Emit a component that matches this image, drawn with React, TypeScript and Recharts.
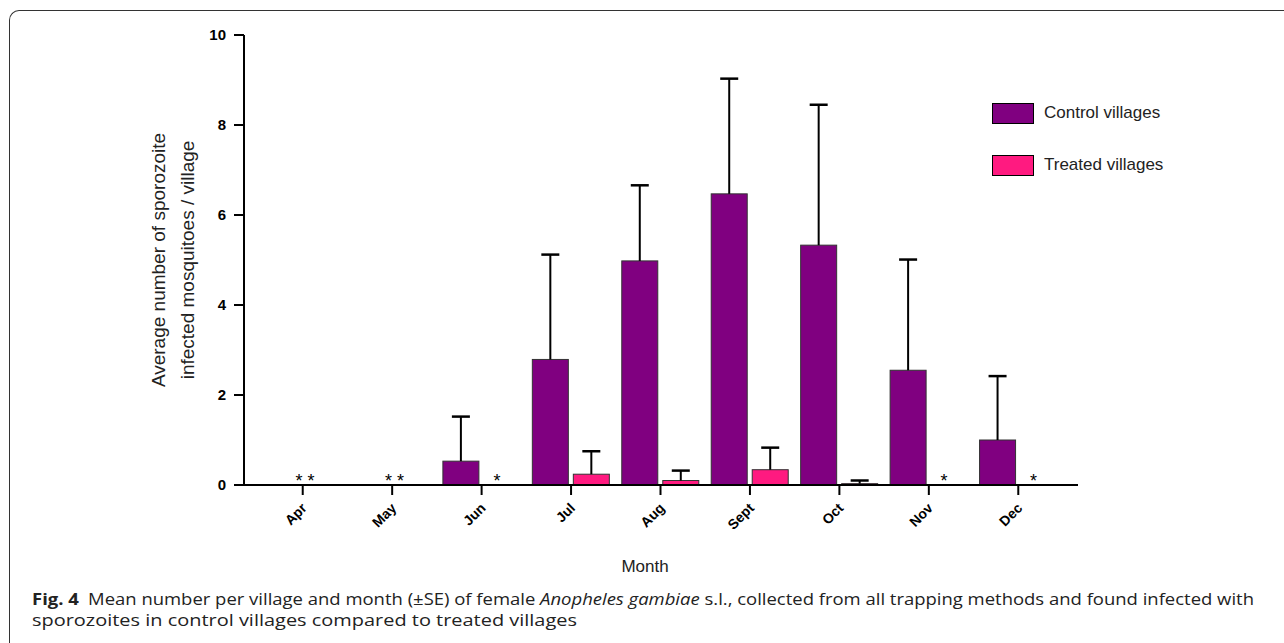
import React from 'react'
import { BarChart, Bar, XAxis, YAxis, Legend, LabelList } from 'recharts'

const months = ['Apr', 'May', 'Jun', 'Jul', 'Aug', 'Sept', 'Oct', 'Nov', 'Dec']
const controlMean = [0, 0, 0.53, 2.79, 4.98, 6.47, 5.33, 2.55, 1.0]
const controlSE = [0, 0, 0.99, 2.33, 1.68, 2.56, 3.12, 2.46, 1.42]
const treatedMean = [0, 0, 0, 0.24, 0.1, 0.34, 0.03, 0, 0]
const treatedSE = [0, 0, 0, 0.51, 0.22, 0.49, 0.07, 0, 0]
const yTicks = [0, 2, 4, 6, 8, 10]

const CONTROL = '#800080'
const TREATED = '#ff1a80'
const ARIAL = "Arial, 'Liberation Sans', sans-serif"

const data = months.map((m, i) => ({
  month: m,
  control: controlMean[i],
  controlErr: controlSE[i],
  treated: treatedMean[i],
  treatedErr: treatedSE[i],
}))

const legendItems = [
  { label: 'Control villages', color: CONTROL },
  { label: 'Treated villages', color: TREATED },
]

// bar with an upward-only SE whisker, scaled from the bar's own geometry
const barWithError = (valKey: string, errKey: string) => (props: any) => {
  const { x, y, width, height, fill, payload } = props
  const v = payload[valKey]
  const e = payload[errKey]
  if (!v) return <g />
  const perUnit = height / v
  const cx = x + width / 2
  const top = y - e * perUnit
  return (
    <g>
      <rect x={x} y={y} width={width} height={height} fill={fill} stroke="#333" strokeWidth={1} />
      {e > 0 && (
        <>
          <line x1={cx} x2={cx} y1={y} y2={top} stroke="#000" strokeWidth={2} />
          <line x1={cx - 9} x2={cx + 9} y1={top} y2={top} stroke="#000" strokeWidth={2.5} />
        </>
      )}
    </g>
  )
}

const renderStar = (props: any) => {
  const { x, y, width, index } = props
  const row = data[index]
  if (!row || row.treated !== 0) return null
  const both = row.control === 0
  return (
    <text
      x={both ? x : x + width / 2 - 5}
      y={y + 2}
      textAnchor="middle"
      fontFamily={ARIAL}
      fontSize={18}
      fill="#000"
    >
      {both ? '* *' : '*'}
    </text>
  )
}

const MonthTick = ({ x, y, payload }: any) => (
  <g transform={`translate(${x + 5},${y + 12}) rotate(-45)`}>
    <text textAnchor="end" fontFamily={ARIAL} fontSize={14} fontWeight="bold" fill="#000">
      {payload.value}
    </text>
  </g>
)

const XTitle = (props: any) => {
  const vb = props.viewBox
  return (
    <text x={vb.x + vb.width / 2 - 16} y={572} textAnchor="middle" fontFamily={ARIAL} fontSize={17} fill="#222">
      Month
    </text>
  )
}

const YTitle = (props: any) => {
  const vb = props.viewBox
  const cy = vb.y + vb.height / 2
  const lines = ['Average number of sporozoite', 'infected mosquitoes / village']
  const xs = [vb.x - 26, vb.x + 3]
  return (
    <g>
      {lines.map((t, i) => (
        <text
          key={t}
          x={xs[i]}
          y={cy}
          transform={`rotate(-90 ${xs[i]} ${cy})`}
          textAnchor="middle"
          dominantBaseline="central"
          fontFamily={ARIAL}
          fontSize={19}
          fill="#222"
        >
          {t}
        </text>
      ))}
    </g>
  )
}

const renderLegend = () => (
  <div>
    {legendItems.map((it, i) => (
      <div key={it.label} style={{ display: 'flex', alignItems: 'center', height: 20, marginBottom: i === 0 ? 32 : 0 }}>
        <div style={{ width: 40, height: 19, background: it.color, border: '1px solid #000' }} />
        <span style={{ marginLeft: 10, fontFamily: ARIAL, fontSize: 17, color: '#222' }}>{it.label}</span>
      </div>
    ))}
  </div>
)

export default function App() {
  const font = "'Open Sans', sans-serif"
  return (
    <div style={{ position: 'absolute', left: 0, top: 0, width: 1284, height: 643, background: '#fff', overflow: 'hidden' }}>
      <div
        style={{
          position: 'absolute',
          left: 9,
          top: 10,
          width: 1300,
          height: 700,
          borderTop: '1.5px solid #333',
          borderLeft: '1.5px solid #333',
          borderTopLeftRadius: 10,
        }}
      />
      <div style={{ position: 'absolute', left: 0, top: 0 }}>
        <BarChart
          width={1284}
          height={600}
          data={data}
          margin={{ top: 35, right: 206, bottom: 15, left: 184 }}
          barSize={36}
          barGap={5}
        >
          <XAxis
            dataKey="month"
            height={100}
            padding={{ left: 14, right: 15 }}
            tick={<MonthTick />}
            tickSize={10}
            axisLine={{ stroke: '#000', strokeWidth: 2 }}
            tickLine={{ stroke: '#000', strokeWidth: 2 }}
            interval={0}
            label={{ content: <XTitle /> }}
          />
          <YAxis
            width={60}
            domain={[0, 10]}
            ticks={yTicks}
            tickSize={10}
            tickMargin={8}
            axisLine={{ stroke: '#000', strokeWidth: 2 }}
            tickLine={{ stroke: '#000', strokeWidth: 2 }}
            tick={{ fontFamily: ARIAL, fontSize: 15, fontWeight: 'bold', fill: '#000' }}
            label={{ content: <YTitle /> }}
          />
          <Legend
            content={renderLegend}
            layout="vertical"
            verticalAlign="middle"
            align="center"
            wrapperStyle={{ position: 'absolute', left: 992, top: 103, width: 200 }}
          />
          <Bar
            dataKey="control"
            name="Control villages"
            fill={CONTROL}
            shape={barWithError('control', 'controlErr')}
            isAnimationActive={false}
          />
          <Bar
            dataKey="treated"
            name="Treated villages"
            fill={TREATED}
            shape={barWithError('treated', 'treatedErr')}
            isAnimationActive={false}
          >
            <LabelList dataKey="treated" content={renderStar} />
          </Bar>
        </BarChart>
      </div>
      <svg style={{ position: 'absolute', left: 0, top: 580 }} width={1284} height={63}>
        <text x={32} y={25} fontFamily={font} fontSize={15.5} fill="#222" textLength={1222} lengthAdjust="spacingAndGlyphs">
          <tspan fontWeight="bold">Fig. 4</tspan>
          <tspan>{'\u2002Mean number per village and month (\u00b1SE) of female '}</tspan>
          <tspan fontStyle="italic">Anopheles gambiae</tspan>
          <tspan> s.l., collected from all trapping methods and found infected with</tspan>
        </text>
        <text x={32} y={46} fontFamily={font} fontSize={15.5} fill="#222" textLength={545} lengthAdjust="spacingAndGlyphs">
          sporozoites in control villages compared to treated villages
        </text>
      </svg>
    </div>
  )
}
